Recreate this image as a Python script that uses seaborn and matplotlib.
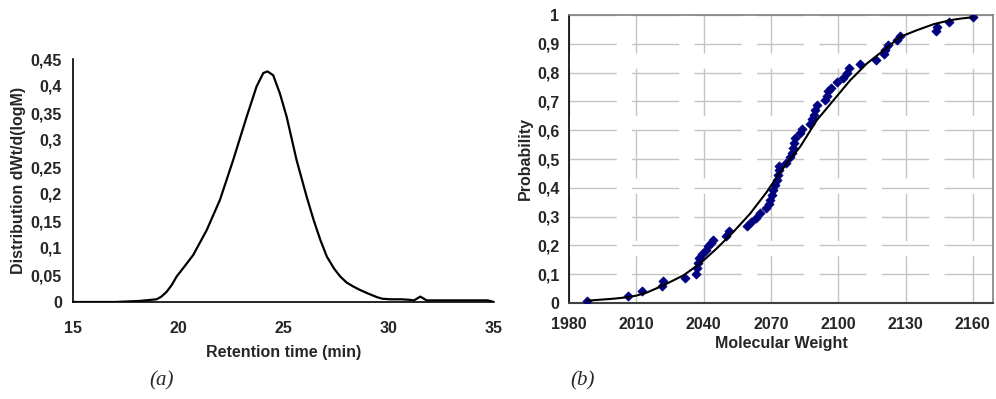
import matplotlib
matplotlib.use("Agg")
import matplotlib.pyplot as plt
import seaborn as sns
import pandas as pd

# (a) GPC trace
rt = [15, 17, 18.18, 18.97, 19.2, 19.45, 19.7, 19.92, 20.3, 20.71, 21.35, 21.98, 22.61,
      23.25, 23.72, 24.04, 24.24, 24.51, 24.83, 25.15, 25.62, 26.1, 26.43, 26.75, 27.06,
      27.4, 27.7, 28.0, 28.3, 28.65, 29.0, 29.44, 29.7, 30.08, 30.6, 31.0, 31.2, 31.5,
      31.8, 32.5, 33.5, 34.7, 35.0]
dist = [0.0, 0.0, 0.002, 0.005, 0.01, 0.019, 0.032, 0.047, 0.066, 0.087, 0.133, 0.189,
        0.263, 0.343, 0.399, 0.424, 0.427, 0.42, 0.386, 0.343, 0.263, 0.195, 0.152, 0.115,
        0.084, 0.062, 0.047, 0.036, 0.029, 0.022, 0.016, 0.009, 0.006, 0.005, 0.005, 0.004,
        0.003, 0.01, 0.003, 0.003, 0.003, 0.003, 0.0]

# (b) probability plot - data points
mw_pts = [1987.9, 2006.2, 2012.4, 2021.6, 2021.8, 2031.9, 2036.5, 2036.9, 2037.4, 2038.0,
          2039.5, 2041.0, 2042.1, 2043.2, 2044.2, 2050.0, 2051.1, 2059.5, 2061.0, 2063.4,
          2065.2, 2068.0, 2069.0, 2069.8, 2070.4, 2071.1, 2071.9, 2072.5, 2073.2, 2073.5,
          2073.8, 2076.8, 2078.5, 2079.3, 2079.9, 2080.3, 2080.6, 2083.0, 2083.7, 2087.5,
          2088.5, 2089.3, 2089.8, 2090.7, 2094.2, 2094.8, 2095.5, 2096.7, 2099.5, 2102.2,
          2103.8, 2104.7, 2109.8, 2117.0, 2120.5, 2120.9, 2122.4, 2126.0, 2127.6, 2143.4,
          2144.0, 2149.6, 2160.0]
prob_pts = [0.006, 0.025, 0.04, 0.059, 0.075, 0.088, 0.10, 0.12, 0.139, 0.156,
            0.169, 0.183, 0.197, 0.209, 0.22, 0.233, 0.25, 0.266, 0.28, 0.296,
            0.3125, 0.331, 0.345, 0.359, 0.374, 0.391, 0.409, 0.426, 0.443, 0.461,
            0.476, 0.487, 0.506, 0.521, 0.537, 0.556, 0.572, 0.59, 0.605, 0.623,
            0.638, 0.654, 0.669, 0.686, 0.704, 0.72, 0.736, 0.748, 0.767, 0.782,
            0.797, 0.815, 0.831, 0.845, 0.863, 0.88, 0.897, 0.912, 0.926, 0.944,
            0.96, 0.975, 0.993]

# (b) fitted curve
mw_fit = [1988, 2000, 2006, 2010.2, 2014.6, 2022, 2031, 2038.4, 2045.8, 2053.3, 2060.7,
          2068.1, 2072.6, 2077, 2083, 2090.4, 2097.9, 2105.3, 2112.7, 2120.2, 2127.6,
          2135, 2142.5, 2150, 2155, 2160]
prob_fit = [0.008, 0.015, 0.02, 0.026, 0.036, 0.061, 0.096, 0.137, 0.189, 0.247, 0.31,
            0.385, 0.437, 0.484, 0.542, 0.634, 0.704, 0.773, 0.831, 0.877, 0.924,
            0.947, 0.968, 0.982, 0.988, 0.992]

a_yticks = [0, 0.05, 0.1, 0.15, 0.2, 0.25, 0.3, 0.35, 0.4, 0.45]
a_ylabels = ["0", "0,05", "0,1", "0,15", "0,2", "0,25", "0,3", "0,35", "0,4", "0,45"]
a_xticks = [15, 20, 25, 30, 35]
b_yticks = [0, 0.1, 0.2, 0.3, 0.4, 0.5, 0.6, 0.7, 0.8, 0.9, 1]
b_ylabels = ["0", "0,1", "0,2", "0,3", "0,4", "0,5", "0,6", "0,7", "0,8", "0,9", "1"]
b_xticks = [1980, 2010, 2040, 2070, 2100, 2130, 2160]

sns.set_style("white")
plt.rcParams['font.family'] = ['Liberation Sans', 'DejaVu Sans']
plt.rcParams['font.weight'] = 'bold'

fig = plt.figure(figsize=(9.96, 3.99), dpi=100)
W, H = 996, 399
ax1 = fig.add_axes([73 / W, (H - 302) / H, (494 - 73) / W, (302 - 59) / H])
ax2 = fig.add_axes([569 / W, (H - 303) / H, (993 - 569) / W, (303 - 15) / H])

# ---- (a)
df_a = pd.DataFrame({"rt": rt, "dist": dist})
sns.lineplot(data=df_a, x="rt", y="dist", ax=ax1, color="black", lw=1.6,
             sort=False, estimator=None)
ax1.set_xlim(15, 35)
ax1.set_ylim(0, 0.45)
ax1.set_xticks(a_xticks)
ax1.set_xticklabels([str(t) for t in a_xticks])
ax1.set_yticks(a_yticks)
ax1.set_yticklabels(a_ylabels)
for s in ["top", "right"]:
    ax1.spines[s].set_visible(False)
for s in ["left", "bottom"]:
    ax1.spines[s].set_color("black")
    ax1.spines[s].set_linewidth(1.2)
ax1.tick_params(axis="both", direction="out", length=5, width=1, color="black",
                labelsize=11.5, pad=3)
ax1.tick_params(axis="x", pad=9)
ax1.set_xlabel("Retention time (min)", fontsize=11.5, fontweight="bold", labelpad=6)
ax1.set_ylabel("Distribution dWt/d(logM)", fontsize=11.5, fontweight="bold", labelpad=3)

# ---- (b)
ax2.set_axisbelow(True)
grid_style = dict(color="#c4c4c4", lw=1, linestyle=(0, (34, 11)))
ax2.grid(True, **grid_style)
df_pts = pd.DataFrame({"mw": mw_pts, "p": prob_pts})
df_fit = pd.DataFrame({"mw": mw_fit, "p": prob_fit})
sns.scatterplot(data=df_pts, x="mw", y="p", ax=ax2, marker="D", s=22,
                color="#000080", edgecolor="#000080", linewidth=0.5, zorder=3)
sns.lineplot(data=df_fit, x="mw", y="p", ax=ax2, color="black", lw=1.5,
             sort=False, estimator=None, zorder=4)
ax2.set_xlim(1980, 2169)
ax2.set_ylim(0, 1)
ax2.set_xticks(b_xticks)
ax2.set_xticklabels([str(t) for t in b_xticks])
ax2.set_yticks(b_yticks)
ax2.set_yticklabels(b_ylabels)
ax2.spines["left"].set_color("black")
ax2.spines["left"].set_linewidth(1.2)
ax2.spines["bottom"].set_color("#404040")
ax2.spines["bottom"].set_linewidth(1.5)
for s in ["top", "right"]:
    ax2.spines[s].set_color("#808080")
    ax2.spines[s].set_linewidth(1.2)
ax2.tick_params(axis="both", direction="out", length=4, width=1, color="black",
                labelsize=11.5, pad=3)
ax2.tick_params(axis="x", pad=6)
ax2.set_xlabel("Molecular Weight", fontsize=11.5, fontweight="bold", labelpad=3)
ax2.set_ylabel("Probability", fontsize=11.5, fontweight="bold", labelpad=3)

# panel captions
fig.text(162 / W, 1 - 381 / H, "(a)", fontsize=15, style="italic", fontweight="normal",
         family=["Liberation Serif"], ha="center", va="center")
fig.text(583 / W, 1 - 381 / H, "(b)", fontsize=15, style="italic", fontweight="normal",
         family=["Liberation Serif"], ha="center", va="center")

fig.savefig("out.png", dpi=100)
